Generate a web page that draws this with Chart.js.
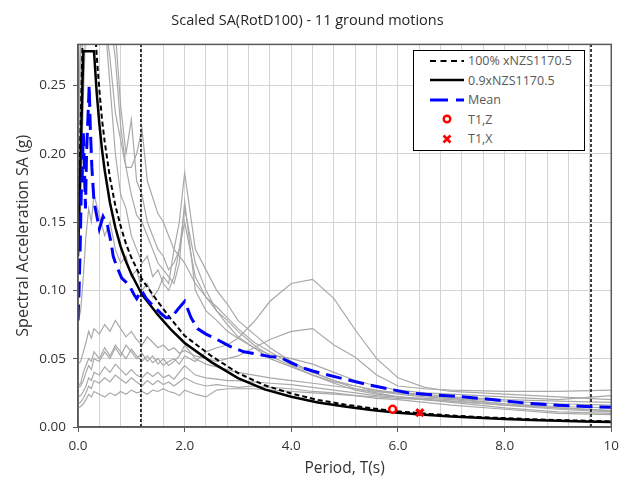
<!DOCTYPE html>
<html>
<head>
<meta charset="utf-8">
<title>Scaled SA(RotD100)</title>
<script src="https://cdn.jsdelivr.net/npm/chart.js@4.4.1/dist/chart.umd.min.js"></script>
<style>
  html, body { margin: 0; padding: 0; background: #fff; }
  #wrap { position: relative; width: 625px; height: 480px; }
  #legend {
    position: absolute; left: 413px; top: 50px; width: 172px;
    box-sizing: border-box; border: 1px solid #000; background: #fff;
    font: 12.5px "Open Sans", sans-serif; color: #595959; padding: 0 0 1px 0;
  }
  #legend .row { height: 19.5px; display: flex; align-items: center; }
  #legend svg { margin-left: 16px; margin-right: 4px; flex: none; }
</style>
</head>
<body>
<div id="wrap">
  <canvas id="grafik" width="625" height="480"></canvas>
  <div id="legend"></div>
</div>
<script>
// Periode (s) rekaman gerak tanah
const periods = [0, 0.05, 0.1, 0.15, 0.2, 0.25, 0.3, 0.4, 0.5, 0.6, 0.7, 0.8, 0.9, 1.0, 1.1, 1.2, 1.3, 1.4, 1.5, 1.6, 1.7, 1.8, 1.9, 2.0,
  2.2, 2.4, 2.6, 2.8, 3.0, 3.3, 3.6, 4.0, 4.4, 4.8, 5.2, 5.6, 6.0, 6.5, 7.0, 8.0, 9.0, 10.0];

// SA (g) tiap gerak tanah
const gm1 = [0.030, 0.032, 0.040, 0.045, 0.050, 0.048, 0.055, 0.050, 0.058, 0.052, 0.060, 0.055, 0.050, 0.057, 0.052, 0.048, 0.052, 0.047, 0.050, 0.045, 0.048, 0.050, 0.046, 0.052,
  0.048, 0.055, 0.058, 0.060, 0.065, 0.077, 0.092, 0.105, 0.108, 0.094, 0.071, 0.050, 0.036, 0.029, 0.026, 0.024, 0.022, 0.020];
const gm2 = [0.046, 0.048, 0.055, 0.062, 0.070, 0.065, 0.072, 0.068, 0.075, 0.070, 0.078, 0.072, 0.066, 0.070, 0.064, 0.060, 0.066, 0.062, 0.058, 0.060, 0.056, 0.058, 0.054, 0.056,
  0.052, 0.050, 0.048, 0.050, 0.052, 0.058, 0.064, 0.070, 0.072, 0.060, 0.051, 0.038, 0.030, 0.028, 0.027, 0.026, 0.026, 0.027];
const gm3 = [0.077, 0.085, 0.110, 0.140, 0.160, 0.150, 0.170, 0.155, 0.140, 0.150, 0.130, 0.120, 0.125, 0.110, 0.115, 0.100, 0.105, 0.095, 0.100, 0.110, 0.105, 0.130, 0.150, 0.186,
  0.130, 0.115, 0.100, 0.090, 0.078, 0.068, 0.058, 0.048, 0.040, 0.034, 0.030, 0.026, 0.024, 0.022, 0.021, 0.019, 0.017, 0.016];
const gm4 = [0.120, 0.160, 0.240, 0.300, 0.340, 0.360, 0.330, 0.350, 0.320, 0.300, 0.290, 0.235, 0.200, 0.225, 0.180, 0.170, 0.150, 0.140, 0.130, 0.125, 0.115, 0.120, 0.130, 0.150,
  0.110, 0.095, 0.085, 0.075, 0.066, 0.058, 0.050, 0.044, 0.038, 0.033, 0.030, 0.027, 0.025, 0.024, 0.022, 0.020, 0.019, 0.018];
const gm5 = [0.150, 0.220, 0.320, 0.400, 0.420, 0.380, 0.400, 0.330, 0.300, 0.270, 0.230, 0.210, 0.190, 0.190, 0.200, 0.218, 0.180, 0.168, 0.156, 0.150, 0.140, 0.130, 0.125, 0.120,
  0.105, 0.095, 0.088, 0.080, 0.072, 0.062, 0.055, 0.046, 0.040, 0.034, 0.028, 0.025, 0.022, 0.021, 0.020, 0.017, 0.015, 0.014];
const gm6 = [0.200, 0.300, 0.450, 0.500, 0.550, 0.480, 0.420, 0.360, 0.300, 0.250, 0.200, 0.170, 0.160, 0.140, 0.130, 0.120, 0.125, 0.110, 0.115, 0.105, 0.100, 0.110, 0.130, 0.160,
  0.120, 0.100, 0.085, 0.078, 0.070, 0.060, 0.052, 0.045, 0.038, 0.032, 0.027, 0.024, 0.022, 0.020, 0.019, 0.016, 0.014, 0.012];
const gm7 = [0.180, 0.280, 0.400, 0.460, 0.520, 0.500, 0.440, 0.380, 0.340, 0.300, 0.270, 0.220, 0.190, 0.170, 0.155, 0.150, 0.140, 0.130, 0.120, 0.115, 0.110, 0.105, 0.120, 0.165,
  0.100, 0.085, 0.078, 0.070, 0.065, 0.058, 0.053, 0.050, 0.046, 0.040, 0.034, 0.030, 0.027, 0.025, 0.024, 0.022, 0.020, 0.023];
const gm8 = [0.029, 0.030, 0.034, 0.040, 0.045, 0.042, 0.050, 0.048, 0.055, 0.050, 0.058, 0.052, 0.060, 0.055, 0.050, 0.054, 0.048, 0.052, 0.046, 0.050, 0.045, 0.048, 0.052, 0.060,
  0.050, 0.046, 0.044, 0.042, 0.040, 0.038, 0.036, 0.034, 0.032, 0.030, 0.028, 0.026, 0.025, 0.023, 0.021, 0.017, 0.014, 0.012];
const gm9 = [0.022, 0.023, 0.026, 0.030, 0.036, 0.034, 0.040, 0.038, 0.044, 0.040, 0.046, 0.042, 0.038, 0.042, 0.038, 0.036, 0.040, 0.037, 0.040, 0.036, 0.038, 0.035, 0.040, 0.045,
  0.038, 0.036, 0.035, 0.034, 0.034, 0.033, 0.032, 0.031, 0.029, 0.027, 0.025, 0.023, 0.022, 0.020, 0.018, 0.014, 0.011, 0.010];
const gm10 = [0.017, 0.018, 0.021, 0.025, 0.030, 0.028, 0.034, 0.032, 0.036, 0.033, 0.038, 0.035, 0.032, 0.036, 0.033, 0.030, 0.034, 0.031, 0.034, 0.031, 0.033, 0.030, 0.033, 0.036,
  0.032, 0.030, 0.031, 0.030, 0.029, 0.030, 0.029, 0.028, 0.026, 0.025, 0.023, 0.021, 0.020, 0.018, 0.016, 0.013, 0.010, 0.009];
const gm11 = [0.014, 0.015, 0.017, 0.020, 0.024, 0.022, 0.026, 0.024, 0.022, 0.025, 0.023, 0.026, 0.024, 0.027, 0.025, 0.026, 0.024, 0.027, 0.026, 0.028, 0.026, 0.025, 0.023, 0.027,
  0.024, 0.022, 0.027, 0.028, 0.028, 0.028, 0.027, 0.026, 0.025, 0.024, 0.023, 0.022, 0.021, 0.020, 0.019, 0.016, 0.013, 0.011];
const groundMotions = [gm1, gm2, gm3, gm4, gm5, gm6, gm7, gm8, gm9, gm10, gm11];

// Spektrum rencana NZS1170.5
const specPeriods = [0, 0.1, 0.2, 0.3, 0.35, 0.4, 0.45, 0.5, 0.6, 0.7, 0.8, 0.9, 1.0, 1.2, 1.5, 1.75, 2.0, 2.5, 3.0, 3.5, 4.0, 4.5,
  5.0, 5.5, 6.0, 6.5, 7.0, 7.5, 8.0, 8.5, 9.0, 9.5, 10];
const nzs100 = [0.139, 0.306, 0.306, 0.306, 0.272, 0.247, 0.225, 0.209, 0.182, 0.162, 0.147, 0.134, 0.124, 0.108, 0.0915, 0.0787, 0.0668, 0.052, 0.0395, 0.0305, 0.0245, 0.0198,
  0.0165, 0.0137, 0.0115, 0.0098, 0.0084, 0.0073, 0.0065, 0.0057, 0.0051, 0.0046, 0.0041];
const nzs90 = [0.125, 0.275, 0.275, 0.275, 0.245, 0.222, 0.203, 0.188, 0.164, 0.146, 0.132, 0.121, 0.112, 0.097, 0.082, 0.071, 0.0615, 0.0475, 0.0358, 0.0275, 0.0222, 0.018,
  0.015, 0.0125, 0.0105, 0.0089, 0.0077, 0.0067, 0.0059, 0.0052, 0.0046, 0.0041, 0.0037];

// Rata-rata
const meanPeriods = [0, 0.02, 0.04, 0.06, 0.08, 0.1, 0.12, 0.14, 0.16, 0.18, 0.21, 0.23, 0.26, 0.3, 0.35, 0.4, 0.47, 0.55, 0.62, 0.66,
  0.72, 0.82, 0.9, 0.97, 1.05, 1.1, 1.19, 1.28, 1.4, 1.56, 1.65, 1.75, 1.87, 2.0, 2.12, 2.24, 2.4, 2.61, 2.85, 3.11,
  3.4, 3.6, 3.79, 4.0, 4.16, 4.4, 4.6, 5.0, 5.43, 5.8, 6.24, 6.7, 7.2, 7.8, 8.44, 9.0, 9.62, 10];
const meanValues = [0.078, 0.10, 0.13, 0.17, 0.185, 0.215, 0.19, 0.16, 0.20, 0.22, 0.25, 0.22, 0.19, 0.165, 0.155, 0.145, 0.154, 0.148, 0.135, 0.125,
  0.118, 0.109, 0.106, 0.103, 0.097, 0.094, 0.100, 0.094, 0.089, 0.083, 0.080, 0.080, 0.086, 0.092, 0.080, 0.072, 0.068, 0.064, 0.059, 0.055,
  0.053, 0.0515, 0.051, 0.047, 0.044, 0.041, 0.039, 0.035, 0.031, 0.028, 0.0247, 0.0235, 0.0222, 0.020, 0.0173, 0.016, 0.0149, 0.0144];

// Periode fundamental
const t1Periods = [5.9, 6.41];
const t1Values = [0.013, 0.0105];

// Batas rentang periode (garis putus vertikal)
const rangeLimits = [1.18, 9.62];

const yMax = 0.28;
const fontFam = '"Open Sans", sans-serif';

const toPoints = (xs, ys) => xs.map((x, i) => ({ x, y: ys[i] }));
const isMajor = v => Math.abs(v / 2 - Math.round(v / 2)) < 1e-6;

const datasets = [];

groundMotions.forEach((gm, i) => {
  datasets.push({
    label: "GM" + (i + 1),
    data: toPoints(periods, gm),
    borderColor: "#a9a9a9",
    borderWidth: 1.2,
    pointRadius: 0,
    order: 10
  });
});

rangeLimits.forEach(t => {
  datasets.push({
    label: "limit",
    data: [{ x: t, y: 0 }, { x: t, y: yMax }],
    borderColor: "#000",
    borderWidth: 1.5,
    borderDash: [3, 2],
    pointRadius: 0,
    order: 5
  });
});

datasets.push({
  label: "100% xNZS1170.5",
  data: toPoints(specPeriods, nzs100),
  borderColor: "#000",
  borderWidth: 2,
  borderDash: [5, 3],
  pointRadius: 0,
  order: 3,
  legend: true
});
datasets.push({
  label: "0.9xNZS1170.5",
  data: toPoints(specPeriods, nzs90),
  borderColor: "#000",
  borderWidth: 2.5,
  pointRadius: 0,
  order: 2,
  legend: true
});
datasets.push({
  label: "Mean",
  data: toPoints(meanPeriods, meanValues),
  borderColor: "#0000ff",
  borderWidth: 3,
  borderDash: [16, 7],
  pointRadius: 0,
  order: 1,
  legend: true
});
datasets.push({
  label: "T1,Z",
  data: [{ x: t1Periods[0], y: t1Values[0] }],
  showLine: false,
  pointStyle: "circle",
  pointRadius: 3.5,
  pointBorderWidth: 2.5,
  pointBorderColor: "#ff0000",
  pointBackgroundColor: "#fff",
  borderColor: "#ff0000",
  order: 0,
  legend: true
});
datasets.push({
  label: "T1,X",
  data: [{ x: t1Periods[1], y: t1Values[1] }],
  showLine: false,
  pointStyle: "crossRot",
  pointRadius: 5,
  pointBorderWidth: 3,
  pointBorderColor: "#ff0000",
  borderColor: "#ff0000",
  order: 0,
  legend: true
});

// Bingkai area plot
const bingkai = {
  id: "bingkai",
  afterDraw(chart) {
    const { ctx, chartArea: a } = chart;
    ctx.save();
    ctx.strokeStyle = "#595959";
    ctx.lineWidth = 1.5;
    ctx.strokeRect(a.left, a.top, a.right - a.left, a.bottom - a.top);
    ctx.restore();
  }
};

const ctx = document.getElementById("grafik").getContext("2d");
const chart = new Chart(ctx, {
  type: "line",
  data: { datasets },
  plugins: [bingkai],
  options: {
    responsive: false,
    animation: false,
    layout: { padding: { left: 0, right: 10, top: 0, bottom: 0 } },
    plugins: {
      legend: { display: false },
      tooltip: { enabled: false },
      title: {
        display: true,
        text: "Scaled SA(RotD100) - 11 ground motions",
        color: "#262626",
        font: { family: fontFam, size: 14.5, weight: "normal" },
        padding: { top: 12, bottom: 15 }
      }
    },
    scales: {
      x: {
        type: "linear",
        min: 0,
        max: 10,
        afterFit: axis => { axis.height = 53; },
        ticks: {
          stepSize: 0.4,
          autoSkip: false,
          maxRotation: 0,
          padding: 6,
          color: "#333",
          font: { family: fontFam, size: 13.5 },
          callback: v => isMajor(v) ? (Math.round(v) === 10 ? "10" : v.toFixed(1)) : ""
        },
        grid: {
          color: "#d4d4d4",
          tickLength: 5,
          tickColor: c => isMajor(c.tick.value) ? "#595959" : "rgba(0,0,0,0)"
        },
        border: { color: "#595959", width: 1.5 },
        title: {
          display: true,
          text: "Period, T(s)",
          color: "#333",
          font: { family: fontFam, size: 15.5 },
          padding: { top: 2, bottom: 2 }
        }
      },
      y: {
        min: 0,
        max: yMax,
        afterFit: axis => { axis.width = 78; },
        ticks: {
          stepSize: 0.05,
          padding: 7,
          color: "#333",
          font: { family: fontFam, size: 13.5 },
          callback: v => Math.abs(v * 20 - Math.round(v * 20)) < 1e-6 ? v.toFixed(2) : ""
        },
        grid: {
          color: c => c.tick.value > 0.27 ? "rgba(0,0,0,0)" : "#d4d4d4",
          tickLength: 5,
          tickColor: c => c.tick.value > 0.27 ? "rgba(0,0,0,0)" : "#595959"
        },
        border: { color: "#595959", width: 1.5 },
        title: {
          display: true,
          text: "Spectral Acceleration SA (g)",
          color: "#333",
          font: { family: fontFam, size: 16 },
          padding: { top: 14, bottom: 0 }
        }
      }
    }
  }
});

// Legenda di dalam area plot
function buatLegenda() {
  const box = document.getElementById("legend");
  chart.data.datasets.filter(d => d.legend).forEach(d => {
    const row = document.createElement("div");
    row.className = "row";
    let svg;
    if (d.pointStyle === "circle") {
      svg = '<svg width="34" height="12"><circle cx="17" cy="6" r="3.3" fill="#fff" stroke="#ff0000" stroke-width="2.4"/></svg>';
    } else if (d.pointStyle === "crossRot") {
      svg = '<svg width="34" height="12"><path d="M13.5 2.5 L20.5 9.5 M20.5 2.5 L13.5 9.5" stroke="#ff0000" stroke-width="2.6"/></svg>';
    } else {
      const dash = d.borderDash ? d.label === "Mean" ? ' stroke-dasharray="18,8"' : ' stroke-dasharray="6,4.5"' : "";
      svg = '<svg width="34" height="12"><line x1="0" y1="6" x2="34" y2="6" stroke="' + d.borderColor +
        '" stroke-width="' + d.borderWidth + '"' + dash + '/></svg>';
    }
    row.innerHTML = svg + "<span>" + d.label + "</span>";
    box.appendChild(row);
  });
}
buatLegenda();
</script>
</body>
</html>
